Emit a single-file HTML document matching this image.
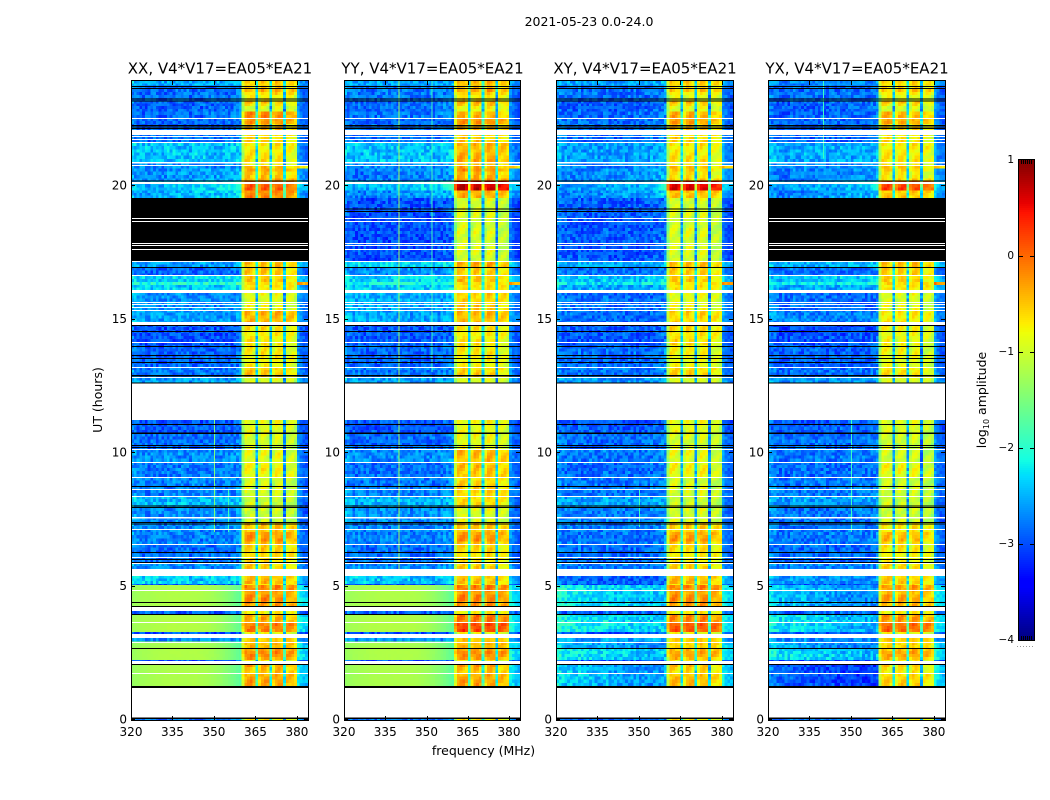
<!DOCTYPE html>
<html lang="en">
<head>
<meta charset="utf-8">
<title>2021-05-23 0.0-24.0</title>
<style>
html,body{margin:0;padding:0;background:#fff;}
svg{display:block;font-family:"DejaVu Sans","Liberation Sans",sans-serif;fill:#000;}
</style>
</head>
<body>
<svg id="chart" xmlns="http://www.w3.org/2000/svg" width="1050" height="800" viewBox="0 0 1050 800">
  <text x="589" y="26" font-size="12.5" text-anchor="middle">2021-05-23 0.0-24.0</text>
  <text x="483.5" y="755" font-size="12.5" text-anchor="middle">frequency (MHz)</text>
  <text transform="translate(102,400) rotate(-90)" font-size="12.5" text-anchor="middle">UT (hours)</text>
  <text transform="translate(986,400) rotate(-90)" font-size="12.5" text-anchor="middle">log<tspan font-size="8" dy="3">10</tspan><tspan dy="-3"> amplitude</tspan></text>
</svg>
<script>
/* ---------- chart data (hours UT, MHz, log10 amplitude) ---------- */
const panelTitles = ["XX, V4*V17=EA05*EA21","YY, V4*V17=EA05*EA21","XY, V4*V17=EA05*EA21","YX, V4*V17=EA05*EA21"];
const freqTicks = [320,335,350,365,380];
const hourTicks = [0,5,10,15,20];
const colorbarTicks = [1,0,-1,-2,-3,-4];

const bandTop = [23.9,23.72,23.15,22.75,22.5,22.06,21.57,20.86,20.72,20.62,
  20.13,19.8,19.51,17.15,16.89,16.59,16.37,16.25,15.96,15.32,
  14.8,14,13.18,12.77,11.2,10.7,10.11,9.63,9.06,8.35,
  7.9,7.34,6.54,5.84,5.36,5.06,5.02,4.19,3.93,3.26,
  3.03,2.9,2.66,2.21,2.06,0];
const bandBottom = [23.72,23.15,22.75,22.5,22.06,21.57,20.86,20.72,20.62,20.13,
  19.8,19.51,17.15,16.89,16.59,16.37,16.25,15.96,15.32,14.8,
  14,13.18,12.77,12.57,10.7,10.11,9.63,9.06,8.35,7.9,
  7.34,6.54,5.84,5.62,5.06,5.02,4.19,3.93,3.26,3.18,
  2.9,2.66,2.21,2.17,1.24,-0.04];
const bandTilt = [0,0,.1,.1,0,0,0,0,0,.2,
  .3,.3,0,0,0,.1,.1,0,-.1,-.1,
  0,0,0,0,0,0,0,0,0,0,
  0,0,0,0,-.1,0,-.35,0,-.35,0,
  0,-.35,-.35,0,-.35,0];
const bandEast = [-2.7,-2.9,-2.9,-2.9,-2.9,-2.85,-2.8,-2.8,-.7,-2.7,
  -2.45,-2.7,-3.05,-2.5,-2.9,-2.5,-.35,-2.6,-2.8,-2.75,
  -2.95,-2.9,-2.85,-2.7,-3,-2.9,-2.85,-2.9,-2.85,-2.9,
  -2.95,-2.85,-2.9,-2.8,-2.6,-3,-2.3,-2.9,-2.3,-3,
  -2.8,-2.4,-2.3,-3,-2.4,-2.8];

const xxLow = [-2.55,-2.85,-2.95,-2.9,-2.9,-2.85,-2.45,-2.7,-2.7,-2.75,
  -2.55,-2.65,null,-2.6,-2.9,-2.4,-2.1,-2.4,-2.65,-2.55,
  -3,-2.9,-2.8,-2.6,-2.95,-2.85,-2.7,-2.8,-2.75,-2.5,
  -2.7,-2.75,-2.85,-2.7,-2.35,-3,-1.18,-2.9,-1.16,-3,
  -2.7,-1.22,-1.18,-3,-1.2,-2.8];
const xxHot = [-.55,-.6,-.75,-.2,-.5,-.6,-.7,-.8,-.6,-.35,
  .05,-.15,null,-.5,-.55,-.55,-.6,-.65,-.85,-.4,
  -.7,-.75,-.55,-.9,-.85,-.95,-.9,-.8,-.95,-1,
  -1,-.5,-.6,-.6,-.45,-.8,-.3,-.6,-.25,-.8,
  -.5,-.3,-.3,-.8,-.35,-.7];
const yyLow = [-2.55,-2.8,-2.9,-2.85,-2.85,-2.8,-2.45,-2.7,-2.7,-2.85,
  -2.6,-2.8,-3,-2.35,-2.7,-2.35,-2.1,-2.4,-2.5,-2.55,
  -2.95,-2.9,-2.8,-2.6,-2.95,-2.85,-2.7,-2.85,-2.8,-2.5,
  -2.7,-2.75,-2.85,-2.7,-2.4,-3,-1.18,-2.9,-1.16,-3,
  -2.7,-1.22,-1.18,-3,-1.2,-2.8];
const yyHot = [-.45,-.55,-.6,-.45,-.45,-.55,-.4,-.6,-.5,-.25,
  .65,-.35,-.95,-.4,-.6,-.5,-.6,-.6,-.55,-.45,
  -.7,-.75,-.6,-.9,-.8,-.85,-.45,-.5,-.6,-.6,
  -.9,-.5,-.65,-.6,-.5,-.8,-.25,-.6,.05,-.8,
  -.5,-.3,-.3,-.8,-.35,-.7];
const xyLow = [-2.6,-2.85,-2.95,-2.9,-2.85,-2.85,-2.6,-2.7,-2.75,-2.8,
  -2.7,-2.8,-2.95,-2.5,-2.85,-2.5,-2.3,-2.55,-2.8,-2.8,
  -2.95,-2.85,-2.8,-2.65,-2.95,-2.85,-2.8,-2.85,-2.8,-2.6,
  -2.75,-2.8,-2.85,-2.75,-2.85,-3,-2.15,-2.9,-2.1,-3,
  -2.6,-2.4,-2.15,-3,-2.35,-2.85];
const xyHot = [-.55,-.7,-.7,-.4,-.55,-.6,-.7,-.8,-.6,-.55,
  .55,-.45,-.95,-.5,-.6,-.6,-.6,-.65,-.85,-.6,
  -.65,-.8,-.6,-.9,-.85,-.95,-.9,-.8,-.95,-1,
  -.95,-.55,-.7,-.6,-.45,-.8,-.3,-.6,-.05,-.8,
  -.5,-.45,-.45,-.8,-.5,-.7];
const yxLow = [-2.7,-2.85,-2.95,-2.95,-2.9,-2.9,-2.55,-2.7,-2.75,-2.8,
  -2.7,-2.8,null,-2.5,-2.85,-2.5,-2.3,-2.55,-2.8,-2.7,
  -3,-2.9,-2.85,-2.65,-2.95,-2.85,-2.8,-2.85,-2.8,-2.6,
  -2.8,-2.8,-2.85,-2.75,-2.6,-3,-2.4,-2.9,-2.2,-3,
  -2.7,-2.5,-2.2,-3,-2.85,-2.8];
const yxHot = [-.6,-.7,-.75,-.45,-.6,-.7,-.7,-.8,-.65,-.6,
  .15,-.5,null,-.5,-.6,-.6,-.6,-.65,-.9,-.7,
  -.8,-.85,-.7,-.9,-.9,-1,-1,-.85,-1,-1,
  -1,-.7,-.75,-.65,-.55,-.8,-.45,-.6,-.15,-.8,
  -.5,-.45,-.45,-.8,-.6,-.7];

/* spectral offsets: 320-359, 360-379, 380-383 MHz */
const lowProfile = [.18,.1,.06,.02,0,.03,-.02,0,.04,.02,0,-.03,0,.03,.02,0,-.02,.02,.05,0,
  .02,-.03,0,.03,0,-.02,.02,0,.04,0,-.03,.02,0,.03,.02,.03,.05,.07,.1,.14];
const smoothProfile = [-.14,-.12,-.1,-.08,-.07,-.06,-.05,-.04,-.03,-.02,-.02,-.01,-.01,0,0,0,0,0,0,0,
  0,0,0,0,-.01,-.02,-.03,-.04,-.06,-.08,-.1,-.13,-.16,-.2,-.24,-.28,-.33,-.38,-.44,-.5];
const hotProfile = [-.5,.02,.05,.05,-.1,-1.6,-.2,.05,.05,-.05,-1.6,-.2,.05,.05,-.05,-1.8,-.2,-.12,-.12,-.25];
const eastProfile = [.25,.1,0,-.05];
const speckle = [.18,-.12,.05,-.2,.1,-.05,.22,-.15,0,.12,-.22,.08,-.1,.16,-.03,-.18,.2,.02,-.14,.1,-.08,.25,-.2,.04,.14,-.1,-.25,.06,.18,-.06,.11];
const hatch = [.16,.1,-.05,-.16,-.1,.05];

/* rows of brighter or fainter signal inside the 360-380 MHz block */
const rippleTop = [23.63,23.33,23.15,22.96,22.47,20.71,20.49,6.97,5.06,4.64,4,3.6,2.88,2.58,1.95,1.57];
const rippleBottom = [23.48,23.18,23,22.77,22.25,20.56,20.3,6.7,4.83,4.38,3.63,3.22,2.66,2.28,1.72,1.35];
const rippleDelta = [.2,-.12,.2,-.2,.25,.1,-.2,.25,.15,.1,-.15,.15,-.1,.15,-.15,.05];

/* emission plume rising toward 360 MHz near 20 UT */
const plumeBand = 10;
const plumeStartMHz = [352,354,354,355];
const plumePeak = [-1.9,-1.6,-1.7,-1.8];

/* narrow vertical interference lines */
const spurPanel = [0,0,1,1,2,3,3];
const spurMHz = [350,355,339.9,351.8,350,350,339.9];
const spurTop = [11.2,8.6,23.9,23.9,8.6,11.2,23.9];
const spurBottom = [7,7,5.4,13,7.2,7,21];
const spurLevel = [-1.5,-1.9,-1.3,-1.9,-1.9,-1.9,-1.9];

/* flagged rows */
const blankTop = [22.51,22.06,21.84,21.72,21.61,20.86,20.75,20.11,17.15,16.63,16.07,15.62,15.54,15.43,15.32,14.87,14.12,13.18,12.81,12.57,10.11,9.63,9.06,8.61,8.35,7.57,7.12,6.55,6.07,5.84,5.62,4.83,4.19,3.63,3.18,2.88,2.17,1.72,1.16,18.76,18.65,17.83,17.75,17.6];
const blankBottom = [22.47,21.87,21.8,21.69,21.57,20.81,20.71,20.04,17.12,16.59,15.96,15.58,15.51,15.39,15.28,14.76,14.08,13.15,12.77,11.2,10.07,9.59,9.03,8.58,8.31,7.51,7.08,6.52,6.03,5.81,5.36,4.79,4.04,3.6,3.03,2.85,2.06,1.69,.06,18.73,18.61,17.79,17.72,17.57];
const blackTop = [23.71,23.63,23.24,23.17,22.25,22.19,22.14,20.17,16.93,14.76,14.53,13.97,13.63,13.52,13.37,12.88,12.6,11.05,10.73,10.26,10.19,8.73,8,7.94,7.38,7.32,6.25,5.99,5.88,4.38,4.23,3.93,2.66,2.06,1.24,.06];
const blackBottom = [23.67,23.6,23.2,23.13,22.21,22.15,22.1,20.13,16.89,14.72,14.49,13.93,13.59,13.48,13.33,12.83,12.57,11.01,10.67,10.22,10.15,8.69,7.96,7.9,7.34,7.28,6.21,5.95,5.84,4.34,4.19,3.89,2.62,2.02,1.16,0];
const crossBlackTop = [19.12,19.03];
const crossBlackBottom = [19.08,18.99];

/* ---------- layout and scales ---------- */
const SVG_NS = "http://www.w3.org/2000/svg";
const chart = document.getElementById("chart");
const panelLeft = [131,344,556,768];
const panelWidth = [177,176,177,177];
const panelLow = [xxLow,yyLow,xyLow,yxLow];
const panelHot = [xxHot,yyHot,xyHot,yxHot];
const panelKey = ["xx","yy","xy","yx"];
const plotTop = 81, plotBottom = 720;
const xScale = (p,f) => panelLeft[p] + (f-320)*panelWidth[p]/64;
const yScale = h => 719 - h*26.7;
const cbarLeft = 1019, cbarRight = 1034;
const cbarScale = v => 160 + (1-v)*96;
const SUBROW_HOURS = 0.1125;

function ramp(points,t){
  for(let i=1;i<points.length;i++){
    if(t<=points[i][0]){
      const a=points[i-1], b=points[i];
      return a[1]+(b[1]-a[1])*(t-a[0])/(b[0]-a[0]);
    }
  }
  return points[points.length-1][1];
}
const jetR=[[0,0],[.35,0],[.66,1],[.89,1],[1,.5]];
const jetG=[[0,0],[.125,0],[.375,1],[.64,1],[.91,0],[1,0]];
const jetB=[[0,.5],[.11,1],[.34,1],[.65,0],[1,0]];
function jet(v){
  const t=Math.max(0,Math.min(1,(v+4)/5));
  return "rgb("+Math.round(ramp(jetR,t)*255)+","+Math.round(ramp(jetG,t)*255)+","+Math.round(ramp(jetB,t)*255)+")";
}
function rectEl(parent,x,y,w,h,fill){
  const el=document.createElementNS(SVG_NS,"rect");
  el.setAttribute("x",x.toFixed(2));
  el.setAttribute("y",y.toFixed(2));
  el.setAttribute("width",w.toFixed(2));
  el.setAttribute("height",h.toFixed(2));
  el.setAttribute("fill",fill);
  parent.appendChild(el);
  return el;
}
function lineEl(parent,x1,y1,x2,y2,stroke){
  const el=document.createElementNS(SVG_NS,"line");
  el.setAttribute("x1",x1);
  el.setAttribute("y1",y1);
  el.setAttribute("x2",x2);
  el.setAttribute("y2",y2);
  el.setAttribute("stroke",stroke);
  el.setAttribute("stroke-width","1");
  parent.appendChild(el);
  return el;
}
function textEl(parent,x,y,str,size,anchor){
  const el=document.createElementNS(SVG_NS,"text");
  el.setAttribute("x",x);
  el.setAttribute("y",y);
  el.setAttribute("font-size",size);
  el.setAttribute("text-anchor",anchor);
  el.textContent=str;
  parent.appendChild(el);
  return el;
}
function rippleAt(hour){
  for(let i=0;i<rippleTop.length;i++){
    if(hour<=rippleTop[i]&&hour>rippleBottom[i]) return rippleDelta[i];
  }
  return 0;
}
function channelValue(p,b,f,s,hour){
  const low=panelLow[p][b], hot=panelHot[p][b];
  const tex=speckle[(f*f*3+s*s*7+f*s+p*11)%speckle.length];
  if(f<360){
    if(low>-1.6){
      return low+smoothProfile[f-320]+tex*0.06;
    }
    const noisy=low+lowProfile[f-320]+bandTilt[b]*(f-320)/40+tex*1.2;
    if(b===plumeBand&&f>=plumeStartMHz[p]){
      const frac=(f-plumeStartMHz[p])/(360-plumeStartMHz[p]);
      return Math.max(noisy,low+(plumePeak[p]-low)*frac+tex*0.2);
    }
    return noisy;
  }
  if(f<380){
    const isGap=hotProfile[f-360]<-1;
    return hot+hotProfile[f-360]+rippleAt(hour)+(isGap?tex*1.2:hatch[(f+s)%hatch.length]+tex*0.3);
  }
  return bandEast[b]+eastProfile[f-380]+tex*0.7;
}

/* ---------- panels ---------- */
panelLeft.forEach((left,p)=>{
  const plotWidth=panelWidth[p];
  const g=document.createElementNS(SVG_NS,"g");
  
  
  chart.appendChild(g);

  const heat=document.createElementNS(SVG_NS,"g");
  
  
  heat.setAttribute("shape-rendering","crispEdges");
  g.appendChild(heat);

  bandTop.forEach((top,b)=>{
    const isDead=panelLow[p][b]===null;
    if(isDead){
      const dead=rectEl(heat,left,yScale(top),plotWidth,yScale(bandBottom[b])-yScale(top),"#000");
      
      
      return;
    }
    const rows=Math.max(1,Math.round((top-bandBottom[b])/SUBROW_HOURS));
    const rowHours=(top-bandBottom[b])/rows;
    for(let s=0;s<rows;s++){
      const hTop=top-s*rowHours, hBot=top-(s+1)*rowHours;
      const y0=yScale(hTop), y1=yScale(hBot);
      for(let f=320;f<384;f++){
        const x0=xScale(p,f);
        const x1=xScale(p,f+1);
        const cell=rectEl(heat,x0,y0,x1-x0,y1-y0,jet(channelValue(p,b,f,s+b*17,(hTop+hBot)/2)));
        
        
      }
    }
  });

  spurPanel.forEach((owner,i)=>{
    if(owner!==p) return;
    const spur=rectEl(heat,xScale(p,spurMHz[i]),yScale(spurTop[i]),1,yScale(spurBottom[i])-yScale(spurTop[i]),jet(spurLevel[i]));
    
    
  });

  blackTop.forEach((top,i)=>{
    const row=rectEl(heat,left,yScale(top),plotWidth,yScale(blackBottom[i])-yScale(top),"#000");
    
    
  });
  if(p===1||p===2){
    crossBlackTop.forEach((top,i)=>{
      const row=rectEl(heat,left,yScale(top),plotWidth,yScale(crossBlackBottom[i])-yScale(top),"#000");
      
      
    });
  }
  blankTop.forEach((top,i)=>{
    const row=rectEl(heat,left,yScale(top),plotWidth,yScale(blankBottom[i])-yScale(top),"#fff");
    
    
  });

  const frame=document.createElementNS(SVG_NS,"rect");
  frame.setAttribute("x",left+0.5);
  frame.setAttribute("y",plotTop-0.5);
  frame.setAttribute("width",plotWidth);
  frame.setAttribute("height",plotBottom-plotTop+1);
  frame.setAttribute("fill","none");
  frame.setAttribute("stroke","#000");
  
  
  g.appendChild(frame);

  const title=textEl(g,left+plotWidth/2+0.5,73.5,panelTitles[p],15,"middle");
  
  

  freqTicks.forEach(f=>{
    const x=Math.round(xScale(p,f))+0.5;
    const tb=lineEl(g,x,plotBottom,x,plotBottom-4,"#000");
    
    
    const tt=lineEl(g,x,plotTop,x,plotTop+4,"#000");
    
    
    const lab=textEl(g,xScale(p,f),736,String(f),12,"middle");
    
    
  });
  hourTicks.forEach(h=>{
    const y=Math.round(yScale(h))+0.5;
    const tl=lineEl(g,left,y,left+4,y,"#000");
    
    
    const tr=lineEl(g,left+plotWidth,y,left+plotWidth-4,y,"#000");
    
    
    const lab=textEl(g,left-4,yScale(h)+4.5,String(h),12,"end");
    
    
  });
});

/* ---------- colorbar ---------- */
const cbar=document.createElementNS(SVG_NS,"g");


cbar.setAttribute("shape-rendering","crispEdges");
chart.appendChild(cbar);
for(let i=0;i<240;i++){
  const v=1-i/48;
  const strip=rectEl(cbar,cbarLeft,cbarScale(v),cbarRight-cbarLeft,2.1,jet(v-1/96));
  
  
}
const cbarFrame=document.createElementNS(SVG_NS,"rect");
cbarFrame.setAttribute("x",cbarLeft-0.5);
cbarFrame.setAttribute("y",159.5);
cbarFrame.setAttribute("width",cbarRight-cbarLeft+1);
cbarFrame.setAttribute("height",481);
cbarFrame.setAttribute("fill","none");
cbarFrame.setAttribute("stroke","#000");


cbar.appendChild(cbarFrame);
[1021,1023,1025,1027,1029,1031].forEach(x=>{
  const a=lineEl(cbar,x+0.5,160,x+0.5,164,"#000");
  
  
  const b=lineEl(cbar,x+0.5,640,x+0.5,636,"#000");
  
  
});
colorbarTicks.forEach(v=>{
  const y=Math.round(cbarScale(v))+0.5;
  if(v<1&&v>-4){
    const l=lineEl(cbar,cbarLeft,y,cbarLeft+4,y,"#000");
    
    
    const r=lineEl(cbar,cbarRight,y,cbarRight-4,y,"#000");
    
    
  }
  const lab=textEl(chart,1014,cbarScale(v)+3,String(v).replace("-","\u2212"),10.5,"end");
  
  
});
const dots=lineEl(chart,1017,646.5,1035,646.5,"#999");
dots.setAttribute("stroke-dasharray","1 2");


</script>
</body>
</html>
